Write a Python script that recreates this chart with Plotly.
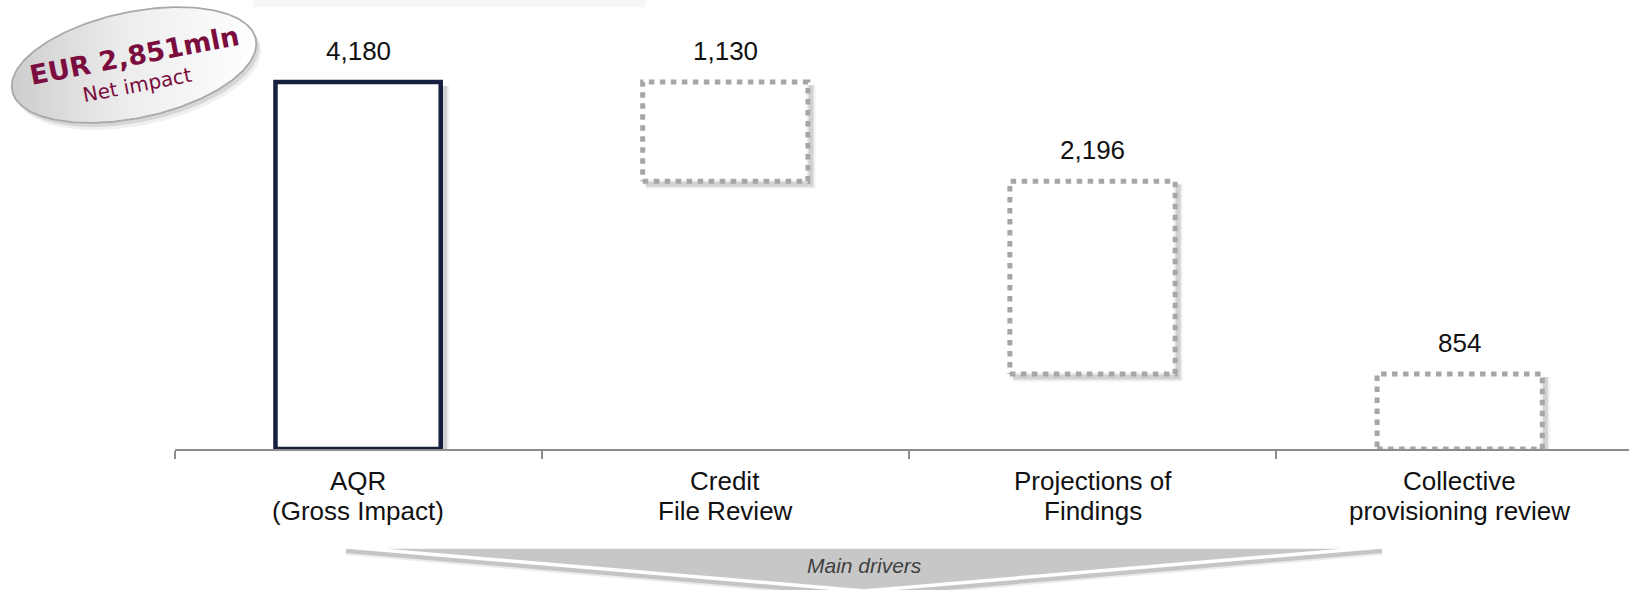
import numpy as np
import plotly.graph_objects as go

# ---- data -------------------------------------------------------------
categories = [
    "AQR<br>(Gross Impact)",
    "Credit<br>File Review",
    "Projections of<br>Findings",
    "Collective<br>provisioning review",
]
values = [4180, 1130, 2196, 854]
value_labels = ["4,180", "1,130", "2,196", "854"]
badge_title = "EUR 2,851mln"
badge_subtitle = "Net impact"
drivers_label = "Main drivers"

# waterfall: first bar is the gross total, the rest break it down from the top
bases = [0]
running = values[0]
for v in values[1:]:
    running -= v
    bases.append(running)
tops = [b + v for b, v in zip(bases, values)]

# ---- geometry ---------------------------------------------------------
W, H = 1629, 590
AXIS_Y = 449          # pixel row of the category axis
X_LEFT = 174.5        # pixel column where the axis starts
CAT_PX = 367.2        # pixels per category slot
Y_PX = 367.0 / 4180   # pixels per unit of value
BAR_W = 0.45

x_idx = list(range(len(categories)))
y_max = AXIS_Y / Y_PX
dx = 1.0 / CAT_PX     # one pixel in category units
dy = 1.0 / Y_PX       # one pixel in value units

NAVY = "#16203f"
DOT_GREY = "#a6a6a6"
MAROON = "#7b0d3e"
FONT = "Liberation Sans, Arial, sans-serif"

fig = go.Figure()

# soft drop shadows under the bars
for i, (b, t) in enumerate(zip(bases, tops)):
    off = 4 if i == 0 else 3
    for w_, a_ in ((9, 0.06), (5, 0.12)):
        fig.add_trace(go.Scatter(
            x=[i + BAR_W / 2 + off * dx, i + BAR_W / 2 + off * dx, i - BAR_W / 2 + off * dx],
            y=[t - off * dy, b - off * dy, b - off * dy],
            mode="lines", line=dict(color=f"rgba(0,0,0,{a_})", width=w_),
            hoverinfo="skip", xaxis="x", yaxis="y",
        ))

# bars (white fill); the gross-impact bar carries a solid navy outline
fig.add_trace(go.Bar(
    x=x_idx, y=values, base=bases, width=BAR_W,
    marker=dict(
        color="white",
        line=dict(color=[NAVY] + ["rgba(0,0,0,0)"] * 3, width=[4.5, 0, 0, 0]),
    ),
    hoverinfo="skip", xaxis="x", yaxis="y",
))

# dotted outlines for the breakdown bars
for i in x_idx[1:]:
    b, t = bases[i], tops[i]
    x0, x1 = i - BAR_W / 2, i + BAR_W / 2
    fig.add_trace(go.Scatter(
        x=[x0, x1, x1, x0, x0], y=[b, b, t, t, b],
        mode="lines", line=dict(color=DOT_GREY, width=5, dash="5.5px,5.5px"),
        hoverinfo="skip", xaxis="x", yaxis="y",
    ))

# value labels above each bar
annotations = []
for i, t in enumerate(tops):
    annotations.append(dict(
        x=i, y=t, xref="x", yref="y", text=value_labels[i], showarrow=False,
        yanchor="middle", yshift=31, font=dict(family=FONT, size=26, color="#111111"),
    ))

# category labels, two lines each, under the axis
for i, cat in enumerate(categories):
    for k, line in enumerate(cat.split("<br>")):
        annotations.append(dict(
            x=i, y=481 + 30 * k, xref="x", yref="y2", text=line, showarrow=False,
            yanchor="middle", font=dict(family=FONT, size=26, color="#111111"),
        ))

# ---- "Net impact" badge (tilted ellipse) ------------------------------
cx, cy, ea, eb, th = 134, 65, 124.5, 53, np.deg2rad(12)
t_ = np.linspace(0, 2 * np.pi, 241)
ex = cx + ea * np.cos(t_) * np.cos(th) + eb * np.sin(t_) * np.sin(th)
ey = cy - ea * np.cos(t_) * np.sin(th) + eb * np.sin(t_) * np.cos(th)

for (ox, oy, a_) in ((5, 7, 0.06), (3, 4, 0.10)):
    fig.add_trace(go.Scatter(
        x=ex + ox, y=ey + oy, mode="lines", fill="toself",
        fillcolor=f"rgba(0,0,0,{a_})", line=dict(width=0),
        hoverinfo="skip", xaxis="x2", yaxis="y2",
    ))
fig.add_trace(go.Scatter(
    x=ex, y=ey, mode="lines", fill="toself",
    fillgradient=dict(type="horizontal",
                      colorscale=[[0, "#cdcdcd"], [0.45, "#ececec"], [1, "#ffffff"]]),
    line=dict(color="#a9a9a9", width=1.8),
    hoverinfo="skip", xaxis="x2", yaxis="y2",
))
annotations.append(dict(
    x=134, y=55, xref="x2", yref="y2", text=f"<b>{badge_title}</b>", showarrow=False,
    textangle=-11, font=dict(family="DejaVu Sans, Verdana, sans-serif", size=27, color=MAROON),
))
annotations.append(dict(
    x=137, y=85, xref="x2", yref="y2", text=badge_subtitle, showarrow=False,
    textangle=-11, font=dict(family="DejaVu Sans, Verdana, sans-serif", size=20, color=MAROON),
))

# ---- "Main drivers" chevron ------------------------------------------
ax_pts = [346, 1382, 864, 346]
ay_pts = [547, 547, 591, 547]
for (w_, a_) in ((10, 0.08), (6, 0.16)):
    fig.add_trace(go.Scatter(
        x=[346, 864, 1382], y=[550, 594, 550], mode="lines",
        line=dict(color=f"rgba(0,0,0,{a_})", width=w_),
        hoverinfo="skip", xaxis="x2", yaxis="y2",
    ))
fig.add_trace(go.Scatter(
    x=ax_pts, y=ay_pts, mode="lines", fill="toself", fillcolor="#c7c7c7",
    line=dict(color="white", width=3.5),
    hoverinfo="skip", xaxis="x2", yaxis="y2",
))
annotations.append(dict(
    x=864, y=565, xref="x2", yref="y2", text=f"<i>{drivers_label}</i>", showarrow=False,
    font=dict(family=FONT, size=21, color="#404040"),
))

# ---- layout -----------------------------------------------------------
fig.update_layout(
    width=W, height=H,
    margin=dict(l=0, r=0, t=0, b=0),
    paper_bgcolor="white", plot_bgcolor="rgba(0,0,0,0)",
    showlegend=False,
    xaxis=dict(
        domain=[X_LEFT / W, 1], range=[-0.5, -0.5 + (W - X_LEFT) / CAT_PX],
        showgrid=False, zeroline=False, showline=True, linecolor="#8c8c8c", linewidth=2,
        ticks="outside", ticklen=8, tickwidth=1.5, tickcolor="#8c8c8c",
        tickmode="array", tickvals=[i - 0.5 for i in range(len(categories) + 1)],
        showticklabels=False, anchor="y", fixedrange=True,
    ),
    yaxis=dict(
        domain=[(H - AXIS_Y) / H, 1], range=[0, y_max],
        visible=False, anchor="x", fixedrange=True,
    ),
    xaxis2=dict(domain=[0, 1], range=[0, W], visible=False, anchor="y2", fixedrange=True),
    yaxis2=dict(domain=[0, 1], range=[H, 0], visible=False, anchor="x2", fixedrange=True),
    shapes=[dict(type="rect", xref="x2", yref="y2", x0=253, x1=645, y0=0, y1=7,
                 fillcolor="#f6f6f6", line=dict(width=0), layer="below")],
    annotations=annotations,
)

fig.write_html("out.html")
